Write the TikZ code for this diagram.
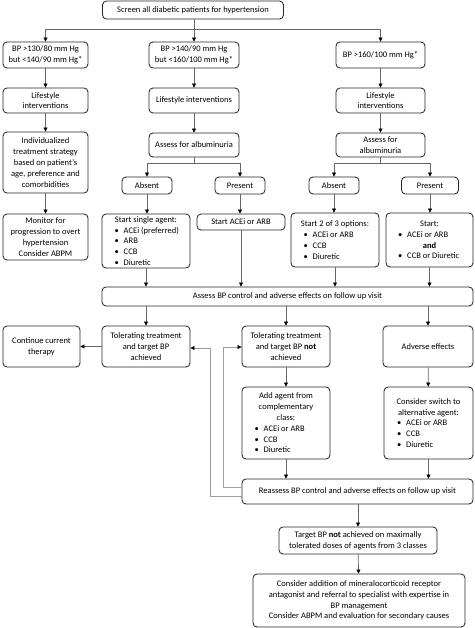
\documentclass[tikz,border=0pt]{standalone}
\usepackage{fontspec}
\setmainfont{Carlito}
\usetikzlibrary{arrows.meta}
\newcommand{\bl}[1]{\makebox[63pt][l]{\textbullet\hspace{5pt}#1}}
\begin{document}
\begin{tikzpicture}[x=1pt,y=-1pt,
  box/.style={draw=black!85, rounded corners=4pt, line width=0.85pt, align=center, inner sep=0pt, font=\fontsize{8.5}{10.8}\selectfont},
  conn/.style={draw=black!60, line width=0.7pt, -{Triangle[length=4pt,width=4pt,color=black]}},
  loopc/.style={draw=black!38, line width=0.8pt, -{Triangle[length=4pt,width=4pt,color=black]}},
  plain/.style={draw=black!60, line width=0.7pt}]
\useasboundingbox (0,0) rectangle (474,628);
% row 0
\node[box, minimum width=181pt, minimum height=18pt] (top) at (193,10) {Screen all diabetic patients for hypertension};
% row 1
\node[box, minimum width=85pt, minimum height=26pt] (bp1) at (45.5,55) {BP >130/80 mm Hg\\but <140/90 mm Hg*};
\node[box, minimum width=90pt, minimum height=26pt] (bp2) at (194,55) {BP >140/90 mm Hg\\but <160/100 mm Hg*};
\node[box, minimum width=89pt, minimum height=26pt] (bp3) at (380.5,55) {BP >160/100 mm Hg*};
% row 2
\node[box, minimum width=85pt, minimum height=25pt] (ls1) at (45.5,100.5) {Lifestyle\\interventions};
\node[box, minimum width=90pt, minimum height=25pt] (ls2) at (194,100.5) {Lifestyle interventions};
\node[box, minimum width=89pt, minimum height=25pt] (ls3) at (380.5,100.5) {Lifestyle\\interventions};
% row 3
\node[box, minimum width=85pt, minimum height=61pt] (indiv) at (45.5,162.5) {Individualized\\treatment strategy\\based on patient’s\\age, preference and\\comorbidities};
\node[box, minimum width=90pt, minimum height=24pt] (as2) at (194,145) {Assess for albuminuria};
\node[box, minimum width=89pt, minimum height=24pt] (as3) at (380.5,145) {Assess for\\albuminuria};
% row 4
\node[box, minimum width=50pt, minimum height=17pt] (ab2) at (147,185.5) {Absent};
\node[box, minimum width=50pt, minimum height=17pt] (pr2) at (240,185.5) {Present};
\node[box, minimum width=50pt, minimum height=17pt] (ab3) at (334,185.5) {Absent};
\node[box, minimum width=57pt, minimum height=17pt] (pr3) at (430,185.5) {Present};
% row 5
\node[box, minimum width=85pt, minimum height=46pt] (mon) at (45.5,237) {Monitor for\\progression to overt\\hypertension\\Consider ABPM};
\node[box, minimum width=88pt, minimum height=54pt] (sa1) at (146,241) {Start single agent:\\\bl{ACEi (preferred)}\\\bl{ARB}\\\bl{CCB}\\\bl{Diuretic}};
\node[box, minimum width=88pt, minimum height=16pt] (sa2) at (241,222) {Start ACEi or ARB};
\node[box, minimum width=88pt, minimum height=54pt] (sa3) at (335,240) {Start 2 of 3 options:\\\bl{ACEi or ARB}\\\bl{CCB}\\\bl{Diuretic}};
\node[box, minimum width=87pt, minimum height=54pt] (sa4) at (429.5,240) {Start:\\\bl{ACEi or ARB}\\\textbf{and}\\\bl{CCB or Diuretic}};
% row 6
\node[box, minimum width=371pt, minimum height=19pt] (abp) at (287.5,296.5) {Assess BP control and adverse effects on follow up visit};
% row 7
\node[box, minimum width=77pt, minimum height=41pt] (cont) at (41.5,346.5) {Continue current\\therapy};
\node[box, minimum width=88pt, minimum height=41pt] (tok) at (146,346.5) {Tolerating treatment\\and target BP\\achieved};
\node[box, minimum width=88pt, minimum height=41pt] (tnot) at (286,346.5) {Tolerating treatment\\and target BP \textbf{not}\\achieved};
\node[box, minimum width=90pt, minimum height=41pt] (adv) at (428,346.5) {Adverse effects};
% row 8
\node[box, minimum width=88pt, minimum height=72pt] (add) at (286,423) {Add agent from\\complementary\\class:\\\bl{ACEi or ARB}\\\bl{CCB}\\\bl{Diuretic}};
\node[box, minimum width=89pt, minimum height=72pt] (sw) at (428.5,423) {Consider switch to\\alternative agent:\\\bl{ACEi or ARB}\\\bl{CCB}\\\bl{Diuretic}};
% row 9
\node[box, minimum width=231pt, minimum height=25pt] (reas) at (357.5,491.5) {Reassess BP control and adverse effects on follow up visit};
\node[box, minimum width=158pt, minimum height=27pt] (tgt) at (358,540.5) {Target BP \textbf{not} achieved on maximally\\tolerated doses of agents from 3 classes};
\node[box, minimum width=212pt, minimum height=53pt] (cons) at (359,600.5) {Consider addition of mineralocorticoid receptor\\antagonist and referral to specialist with expertise in\\BP management\\Consider ABPM and evaluation for secondary causes};
% connectors
\coordinate (j0) at (194,29);
\draw[plain] (top.south -| bp2) -- (j0);
\draw[conn] (j0) -- (bp2.north);
\draw[conn] (j0) -| (bp1.north);
\draw[conn] (j0) -| (bp3.north);
\draw[conn] (bp1) -- (ls1);
\draw[conn] (bp2) -- (ls2);
\draw[conn] (bp3) -- (ls3);
\draw[conn] (ls1) -- (indiv);
\draw[conn] (ls2) -- (as2);
\draw[conn] (ls3) -- (as3);
\draw[conn] (indiv) -- (mon);
\coordinate (j2) at (194,163);
\coordinate (j3) at (380.5,163);
\draw[plain] (as2.south) -- (j2);
\draw[conn] (j2) -| (ab2.north);
\draw[conn] (j2) -| (pr2.north);
\draw[plain] (as3.south) -- (j3);
\draw[conn] (j3) -| (ab3.north);
\draw[conn] (j3) -| (pr3.north);
\draw[conn] (ab2.south) -- (ab2.south |- sa1.north);
\draw[conn] (pr2.south) -- (pr2.south |- sa2.north);
\draw[conn] (ab3.south) -- (ab3.south |- sa3.north);
\draw[conn] (pr3.south) -- (pr3.south |- sa4.north);
\draw[conn] (sa1.south) -- (sa1.south |- abp.north);
\draw[conn] (sa2.south) -- (sa2.south |- abp.north);
\draw[conn] (sa3.south) -- (sa3.south |- abp.north);
\draw[conn] (sa4.south) -- (sa4.south |- abp.north);
\draw[conn] (abp.south -| tok) -- (tok.north);
\draw[conn] (abp.south -| tnot) -- (tnot.north);
\draw[conn] (abp.south -| adv) -- (adv.north);
\draw[conn] (tok.west) -- (cont.east);
\draw[conn] (tnot) -- (add);
\draw[conn] (adv) -- (sw);
\draw[conn] (add.south) -- (add.south |- reas.north);
\draw[conn] (sw.south) -- (sw.south |- reas.north);
\draw[conn] (reas.south -| tgt) -- (tgt.north);
\draw[conn] (tgt) -- (cons);
\draw[loopc] (reas.west |- 0,496) -- (210,496) -- (210,348) -- (tok.east |- 0,348);
\draw[loopc] (reas.west |- 0,487) -- (223,487) -- (223,347) -- (tnot.west |- 0,347);
\end{tikzpicture}
\end{document}
